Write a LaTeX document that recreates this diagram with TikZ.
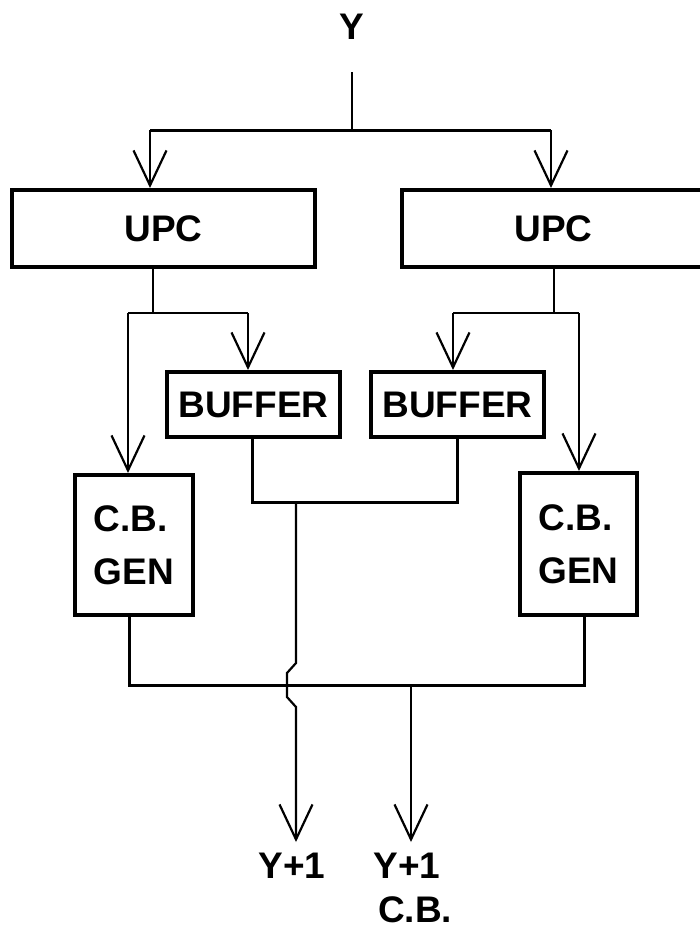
\documentclass[tikz,border=0pt]{standalone}
\usepackage{fontspec}
\setmainfont{Liberation Sans}
\usetikzlibrary{arrows.meta}

\newcommand{\plotfont}{\fontsize{37}{53}\selectfont\bfseries}

\tikzset{
  blk/.style={draw, line width=4pt, inner sep=0pt, font=\plotfont},
  lbl/.style={inner sep=0pt, font=\plotfont},
  wire/.style={line width=2.2pt},
  bus/.style={line width=3pt},
  arr/.style={wire, -{Straight Barb[length=35pt, width=33pt, line width=2.2pt]}},
}

\begin{document}
\begin{tikzpicture}[x=1pt, y=-1pt]
  \useasboundingbox (0,0) rectangle (700,930);

  %% --- input Y ---
  \node[lbl] (yin) at (352,27) {Y};
  \coordinate (ytail)  at (352,72);
  \coordinate (ysplit) at (352,130);
  \coordinate (toL)    at (150,130);
  \coordinate (toR)    at (551,130);

  %% --- UPC boxes ---
  \node[blk, minimum width=303pt, minimum height=77pt] (upcL) at (163.5,228.5) {UPC};
  \node[blk, minimum width=303pt, minimum height=77pt] (upcR) at (553.5,228.5) {UPC};

  %% --- buffers ---
  \node[blk, minimum width=173pt, minimum height=65pt] (bufL) at (253.5,404.5) {BUFFER};
  \node[blk, minimum width=173pt, minimum height=65pt] (bufR) at (457.5,404.5) {BUFFER};

  %% --- check bit generators ---
  \node[blk, minimum width=118pt, minimum height=140pt, align=left] (cbL) at (134,545) {C.B.\\GEN};
  \node[blk, minimum width=117pt, minimum height=142pt, align=left] (cbR) at (578.5,544) {C.B.\\GEN};

  %% Y fans out to both UPC
  \draw[wire] (ytail) -- (ysplit);
  \draw[bus] (toL) -- (toR);
  \draw[arr] (toL) -- (toL |- upcL.north);
  \draw[arr] (toR) -- (toR |- upcR.north);

  %% left UPC -> buffer / C.B. gen
  \coordinate (splitL) at (153,313);
  \coordinate (brL1) at (128,313);
  \coordinate (brL2) at (248,313);
  \draw[wire] (upcL.south -| splitL) -- (splitL);
  \draw[wire] (brL1) -- (brL2);
  \draw[arr] (brL1) -- (brL1 |- cbL.north);
  \draw[arr] (brL2) -- (brL2 |- bufL.north);

  %% right UPC -> buffer / C.B. gen
  \coordinate (splitR) at (554,313);
  \coordinate (brR1) at (453,313);
  \coordinate (brR2) at (579,313);
  \draw[wire] (upcR.south -| splitR) -- (splitR);
  \draw[wire] (brR1) -- (brR2);
  \draw[arr] (brR1) -- (brR1 |- bufR.north);
  \draw[arr] (brR2) -- (brR2 |- cbR.north);

  %% buffers merge, output hops over the C.B. bus
  \coordinate (mgL) at (252,502);
  \coordinate (mgR) at (457,502);
  \coordinate (mgO) at (296,502);
  \coordinate (tipA) at (296,842);
  \draw[bus] (bufL.south -| mgL) -- (mgL) -- (mgR) -- (bufR.south -| mgR);
  \draw[arr] (mgO) -- ++(0,161) -- ++(-9,10) -- ++(0,24) -- ++(9,10) -- (tipA);

  %% C.B. gens merge
  \coordinate (cbjL) at (129,685);
  \coordinate (cbjR) at (584,685);
  \coordinate (cbjO) at (411,685);
  \coordinate (tipB) at (411,842);
  \draw[bus] (cbL.south -| cbjL) -- (cbjL) -- (cbjR) -- (cbR.south -| cbjR);
  \draw[arr] (cbjO) -- (tipB);

  %% outputs
  \node[lbl, anchor=north] (outA) at (292,853) {Y+1};
  \node[lbl, anchor=north] (outB) at (407,853) {Y+1};
  \node[lbl, anchor=north] (outC) at (415,896) {C.B.};
\end{tikzpicture}
\end{document}
